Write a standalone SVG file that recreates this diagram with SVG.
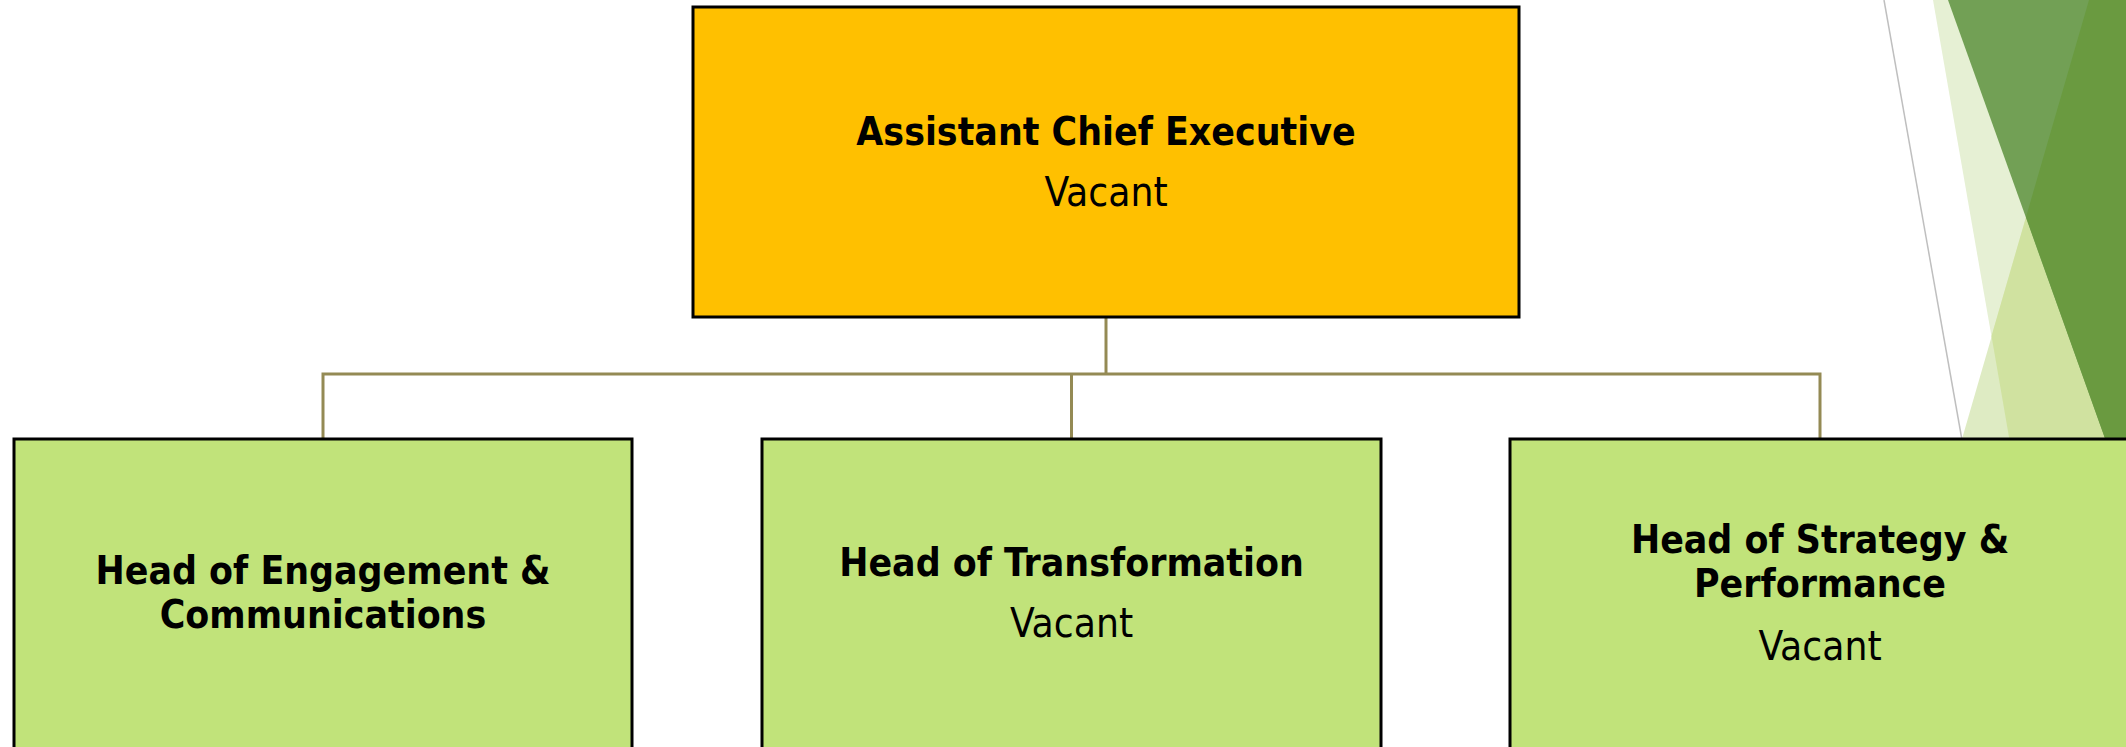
<svg xmlns="http://www.w3.org/2000/svg" width="2126" height="747" viewBox="0 0 2126 747">
<style>
.box{stroke:#000;stroke-width:3}
.top{fill:#FFC000}
.sub{fill:#C1E37A}
.conn{fill:none;stroke:#948A54;stroke-width:3}
text{font-family:"DejaVu Sans Condensed","DejaVu Sans",sans-serif;fill:#000;text-anchor:middle}
.b{font-weight:bold;font-size:38.8px}
.r{font-size:40.3px}
</style>
<rect width="2126" height="747" fill="#FFFFFF"/>
<g id="decor">
<polygon points="1933,0 2126,0 2126,440 2009.5,440" fill="#E6F0D4"/>
<polygon points="2089,0 2126,0 2126,440 1961.7,440" fill="#DEEBC3"/>
<polygon points="1991.5,336 2089,0 2126,0 2126,440 2009.5,440" fill="#D0E2A0"/>
<polygon points="1948,0 2126,0 2126,440 2105.6,440" fill="#72A055"/>
<polygon points="2026,217 2089,0 2126,0 2126,440 2105.6,440" fill="#6A9A40"/>
<line x1="1884" y1="0" x2="1962" y2="440" stroke="#BFBFBF" stroke-width="1.5"/>
</g>
<g id="connectors">
<polyline class="conn" points="1106,317 1106,374"/>
<polyline class="conn" points="323,439 323,374 1820,374 1820,439"/>
<polyline class="conn" points="1071.5,374 1071.5,439"/>
</g>
<g id="ace">
<rect class="box top" x="693" y="7" width="826" height="310"/>
<text class="b" x="1106" y="145">Assistant Chief Executive</text>
<text class="r" x="1106" y="206">Vacant</text>
</g>
<g id="engagement">
<rect class="box sub" x="14" y="439" width="618" height="320"/>
<text class="b" x="323" y="584">Head of Engagement &amp;</text>
<text class="b" x="323" y="628">Communications</text>
</g>
<g id="transformation">
<rect class="box sub" x="762" y="439" width="619" height="320"/>
<text class="b" x="1071.5" y="576">Head of Transformation</text>
<text class="r" x="1071.5" y="637">Vacant</text>
</g>
<g id="strategy">
<rect class="box sub" x="1510" y="439" width="620" height="320"/>
<text class="b" x="1820" y="553">Head of Strategy &amp;</text>
<text class="b" x="1820" y="597">Performance</text>
<text class="r" x="1820" y="660">Vacant</text>
</g>
</svg>
